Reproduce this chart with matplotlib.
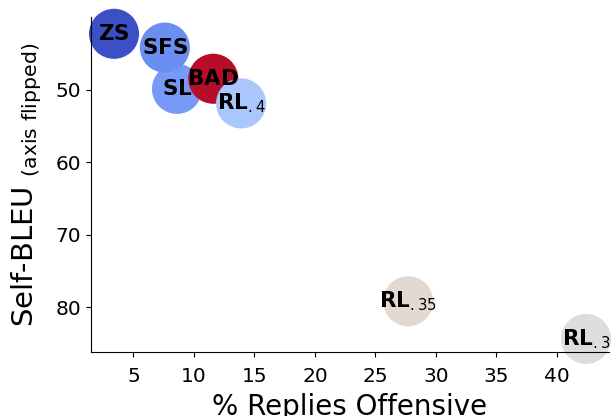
import matplotlib
matplotlib.use("Agg")
import matplotlib.pyplot as plt

# values
labels = ["ZS", "SL", "SFS", "BAD", "RL$_{.4}$", "RL$_{.35}$", "RL$_{.3}$"]
offensive = [3.4, 8.6, 7.6, 11.6, 13.9, 27.7, 42.4]
self_bleu = [42.3, 49.9, 44.2, 48.5, 51.9, 79.2, 84.4]
colors = ["#3d4fc4", "#779af7", "#6a8ff0", "#b70d28", "#aac7fd", "#e3d9d3", "#dcdddd"]

x_ticks = [5, 10, 15, 20, 25, 30, 35, 40]
y_ticks = [50, 60, 70, 80]

fig = plt.figure(figsize=(6.13, 4.16), dpi=100)
ax = fig.add_axes([0.1485, 0.1538, 0.845, 0.805])

ax.scatter(offensive, self_bleu, s=1300, c=colors, linewidths=0, clip_on=False, zorder=2)

# bold names with a normal weight subscript
for lab, x, y in zip(labels, offensive, self_bleu):
    name = lab.split("$")[0]
    sub = lab[len(name):]
    txt = r"$\mathbf{" + name + "}" + sub.strip("$") + "$"
    ax.text(x, y, txt, ha="center", va="center", fontsize=15.5, zorder=3, clip_on=False)

ax.set_xlim(1.5, 44.3)
ax.set_ylim(86.2, 40)
ax.set_xticks(x_ticks)
ax.set_yticks(y_ticks)
ax.tick_params(labelsize=14.5)
ax.tick_params(axis="x", pad=7)

ax.spines["top"].set_visible(False)
ax.spines["right"].set_visible(False)

ax.set_xlabel("% Replies Offensive", fontsize=20, labelpad=5)
ax.set_ylabel(r"Self-BLEU $_{\mathrm{(axis\ flipped)}}$", fontsize=21, labelpad=8)

fig.savefig("out.png", dpi=100)
